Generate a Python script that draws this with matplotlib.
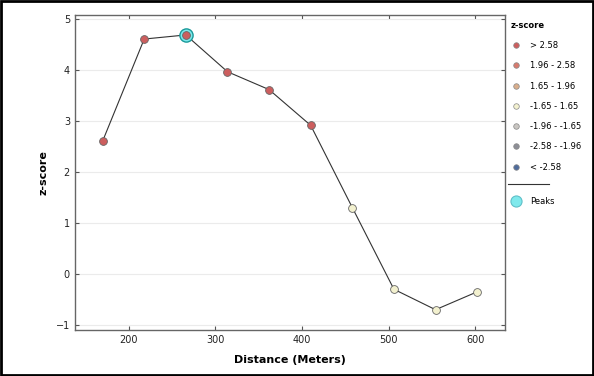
import matplotlib
matplotlib.use("Agg")
import matplotlib.pyplot as plt
from matplotlib.lines import Line2D
from matplotlib.patches import Rectangle
import numpy as np

# data
distance = [170, 218, 266, 314, 362, 410, 458, 506, 554, 602]
zscore = [2.60, 4.60, 4.68, 3.96, 3.61, 2.91, 1.30, -0.30, -0.70, -0.35]
peak_idx = [2]

class_labels = ["> 2.58", "1.96 - 2.58", "1.65 - 1.96", "-1.65 - 1.65",
                "-1.96 - -1.65", "-2.58 - -1.96", "< -2.58"]
class_colors = ["#cc5e5e", "#d77a6e", "#d9ae8c", "#f3f1cf",
                "#c9c6c2", "#8d8e96", "#4f6c9c"]
class_bounds = [2.58, 1.96, 1.65, -1.65, -1.96, -2.58]

def z_class(z):
    for i, b in enumerate(class_bounds):
        if z > b:
            return i
    return len(class_bounds)

fig = plt.figure(figsize=(5.94, 3.76), dpi=100)
ax = fig.add_axes([0.126, 0.122, 0.724, 0.838])

ax.plot(distance, zscore, color="#333333", lw=0.8, zorder=2)
for i in peak_idx:
    ax.plot(distance[i], zscore[i], "o", ms=9.5, mfc="#7fe9ec", mec="#1a9a9a",
            mew=1.0, zorder=3)
for x, z in zip(distance, zscore):
    ax.plot(x, z, "o", ms=5.6, mfc=class_colors[z_class(z)], mec="#666666",
            mew=0.6, zorder=4)

ax.set_xlim(138, 634)
ax.set_ylim(-1.1, 5.07)
ax.set_xticks([200, 300, 400, 500, 600])
ax.set_yticks([-1, 0, 1, 2, 3, 4, 5])
ax.yaxis.grid(True, color="#ebebeb", lw=0.8)
ax.set_axisbelow(True)
ax.tick_params(direction="in", length=3, width=0.8, labelsize=7,
               colors="#555555", labelcolor="#222222", top=True, right=True)
for s in ax.spines.values():
    s.set_color("#666666")
    s.set_linewidth(1.0)

ax.set_xlabel("Distance (Meters)", fontsize=8, fontweight="bold", labelpad=7)
ax.set_ylabel("z-score", fontsize=8, fontweight="bold", labelpad=5)

handles = [Line2D([], [], ls="", marker="o", ms=4, mfc=c, mec="#888888", mew=0.5)
           for c in class_colors]
leg = ax.legend(handles, class_labels, title="z-score", loc="upper left",
                bbox_to_anchor=(1.0, 1.0), frameon=False, fontsize=6,
                title_fontproperties={"size": 6, "weight": "bold"},
                labelspacing=1.35, handlelength=1.2, handletextpad=1.1,
                borderaxespad=0.3)
leg._legend_box.align = "left"
ax.add_artist(leg)

peak_handle = Line2D([], [], ls="", marker="o", ms=8, mfc="#7fe9ec",
                     mec="#5fbfc8", mew=0.8)
ax.legend([peak_handle], ["Peaks"], loc="upper left",
          bbox_to_anchor=(1.0, 0.44), frameon=False, fontsize=6,
          handlelength=1.2, handletextpad=1.1, borderaxespad=0.3)

fig.add_artist(Line2D([0.856, 0.925], [0.511, 0.511], color="#333333",
                      lw=0.8, transform=fig.transFigure))
fig.patches.append(Rectangle((0.002, 0.003), 0.996, 0.994, fill=False,
                             edgecolor="black", lw=2,
                             transform=fig.transFigure, figure=fig))

fig.savefig("out.png", dpi=100)
